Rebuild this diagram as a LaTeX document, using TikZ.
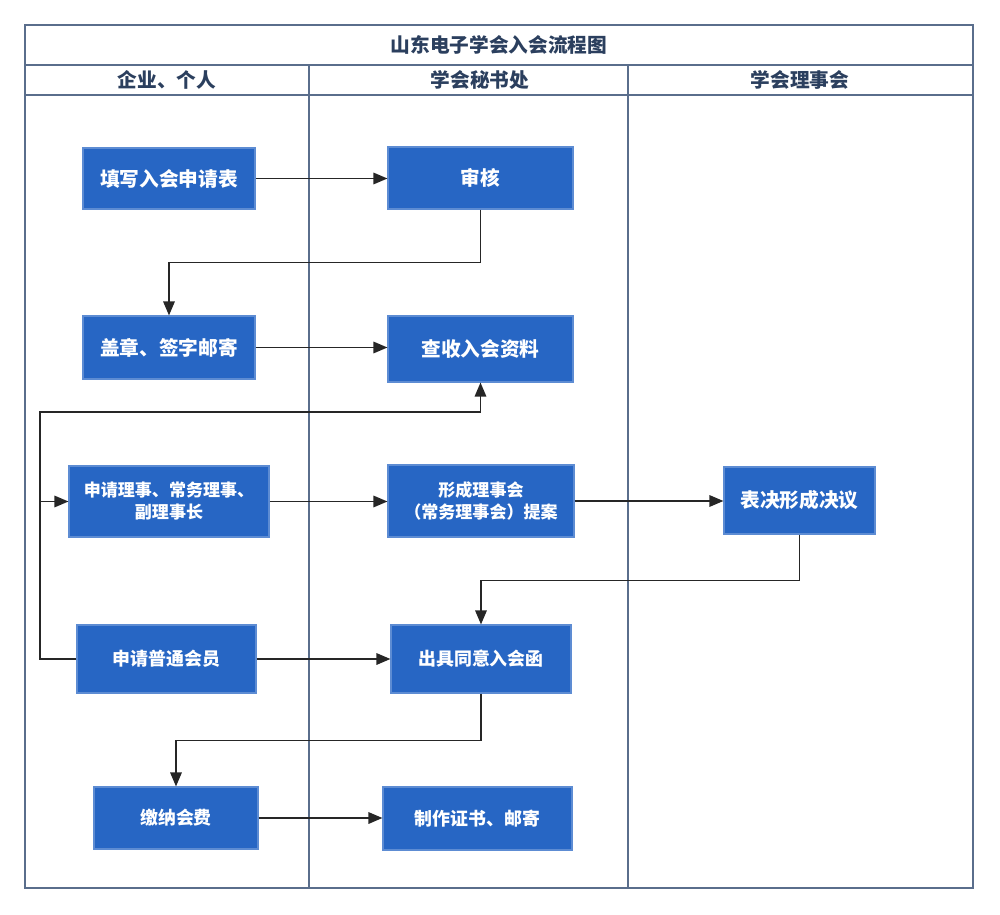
\documentclass[tikz,border=0pt]{standalone}
\usepackage{fontspec}
\setmainfont{Noto Sans CJK SC}
\usepackage{tikz}
\usetikzlibrary{arrows.meta}
\usetikzlibrary{positioning}
\definecolor{BoxBlue}{HTML}{2766C4}
\definecolor{FrameLine}{HTML}{5A6E8C}
\definecolor{HeadText}{HTML}{2B3F5E}

\tikzset{
  box/.style={rectangle, fill=BoxBlue, draw=BoxBlue!75!white, line width=0.6pt,
    text=white, inner sep=0pt, align=center,
    font=\bfseries\fontsize{11.2}{14}\selectfont},
  boxs/.style={box, font=\bfseries\fontsize{10.2}{13}\selectfont},
  flow/.style={line width=1.1pt, black!85, -{Triangle[length=8pt,width=6.5pt]}},
  link/.style={line width=1.1pt, black!85},
  frame/.style={line width=0.8pt, FrameLine},
  head/.style={text=HeadText, font=\bfseries\fontsize{11.2}{14}\selectfont}
}

\begin{document}
\begin{tikzpicture}[x=0.02cm, y=-0.02cm]
    \useasboundingbox (0,0) rectangle (1000,915);
    % Frame
    \draw[frame] (25,25) rectangle (973,888);
    \draw[frame] (25,65) -- (973,65);
    \draw[frame] (25,95) -- (973,95);
    \draw[frame] (309,65) -- (309,888);
    \draw[frame] (628,65) -- (628,888);
    % Headers
    \node[head] (title) at (499,45) {山东电子学会入会流程图};
    \node[head] (laneA) at (167,80) {企业、个人};
    \node[head] (laneB) at (480,80) {学会秘书处};
    \node[head] (laneC) at (800,80) {学会理事会};
    % Steps
    \node[box, minimum width=3.44cm, minimum height=1.22cm] (apply) at (169,178.5) {填写入会申请表};
    \node[box, minimum width=3.70cm, minimum height=1.24cm] (audit) at (480.5,178) {审核};
    \node[box, minimum width=3.44cm, minimum height=1.26cm] (seal) at (169,347.5) {盖章、签字邮寄};
    \node[box, minimum width=3.70cm, minimum height=1.32cm] (check) at (480.5,349) {查收入会资料};
    \node[boxs, minimum width=4.00cm, minimum height=1.42cm, font=\bfseries\fontsize{9.7}{12.5}\selectfont] (council) at (169,501.5) {申请理事、常务理事、\\副理事长};
    \node[boxs, minimum width=3.72cm, minimum height=1.44cm, font=\bfseries\fontsize{9.7}{12.5}\selectfont] (propose) at (481,501) {形成理事会\\（常务理事会）提案};
    \node[box, minimum width=3.02cm, minimum height=1.34cm] (vote) at (799.5,500.5) {表决形成决议};
    \node[boxs, minimum width=3.58cm, minimum height=1.36cm] (member) at (166.5,659) {申请普通会员};
    \node[boxs, minimum width=3.60cm, minimum height=1.36cm] (letter) at (481,659) {出具同意入会函};
    \node[boxs, minimum width=3.28cm, minimum height=1.24cm] (fee) at (176,818) {缴纳会费};
    \node[boxs, minimum width=3.78cm, minimum height=1.26cm] (cert) at (477.5,818.5) {制作证书、邮寄};
    % Connectors
    \coordinate (loopL) at (40,412);
    \draw[flow] (apply.east) -- (apply.east -| audit.west);
    \draw[flow] (audit.south) -- ++(0,53) -| (seal.north);
    \draw[flow] (seal.east) -- (seal.east -| check.west);
    \draw[flow] (member.west) -| (loopL) -| (check.south);
    \draw[flow] (loopL |- council.west) -- (council.west);
    \draw[flow] (council.east) -- (council.east -| propose.west);
    \draw[flow] (propose.east) -- (propose.east -| vote.west);
    \draw[flow] (vote.south) -- ++(0,46) -| (letter.north);
    \draw[flow] (member.east) -- (member.east -| letter.west);
    \draw[flow] (letter.south) -- ++(0,47) -| (fee.north);
    \draw[flow] (fee.east) -- (fee.east -| cert.west);
\end{tikzpicture}
\end{document}
